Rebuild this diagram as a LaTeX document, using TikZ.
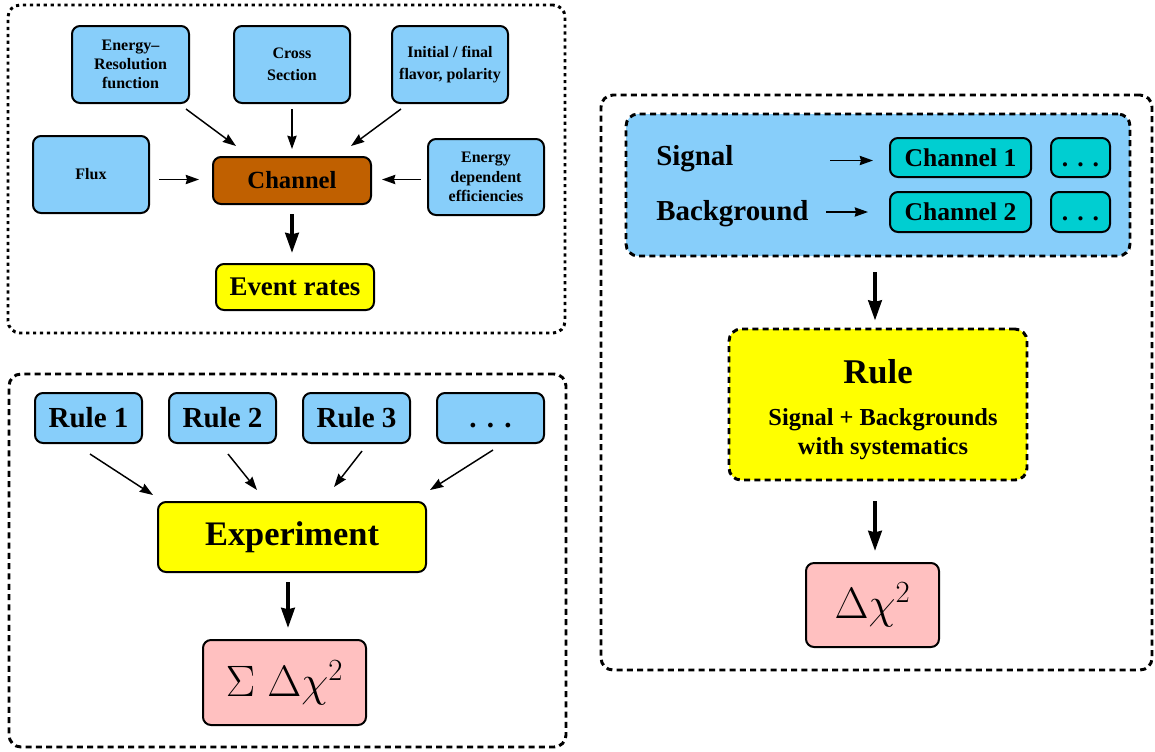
\RequirePackage{fix-cm}
\documentclass[tikz,border=0pt]{standalone}
\usepackage{fontspec}
\setmainfont{Liberation Serif}
\usetikzlibrary{arrows.meta,calc}
\definecolor{boxblue}{HTML}{87CEFA}
\definecolor{chanbrown}{HTML}{C06000}
\definecolor{chanteal}{HTML}{00CED1}
\definecolor{rateyellow}{HTML}{FFFF00}
\definecolor{chipink}{HTML}{FFC0C0}
\newcommand\spdots{.\hspace{.35em}.\hspace{.35em}.}
\newcommand\fs[2]{\fontsize{#1}{#2}\selectfont}
\begin{document}
\begin{tikzpicture}[x=0.75pt,y=-0.75pt,
  box/.style={draw=black,line width=1.5pt,rounded corners=6pt,inner sep=0pt,align=center},
  sz/.style 2 args={minimum width=#1*0.75pt,minimum height=#2*0.75pt},
  frame/.style={draw=black,line width=2.2pt,rounded corners=9pt,inner sep=0pt},
  dotframe/.style={frame,dash pattern=on 2.4pt off 2.8pt},
  dashframe/.style={frame,dash pattern=on 4.5pt off 3.2pt},
  smalltxt/.style={font=\bfseries\fs{12}{14.5}},
  twoline/.style={font=\bfseries\fs{12}{16.5}},
  arr/.style={-{Stealth[length=10pt,width=7pt,inset=1pt]},line width=1.1pt},
  bigarr/.style={-{Stealth[length=15pt,width=10pt,inset=1pt]},line width=3pt},
]
\useasboundingbox (0,0) rectangle (1155,751);

% ---------- channel definition ----------
\node[dotframe,sz={557}{328}] (topframe) at (286.5,169) {};
\node[box,fill=boxblue,sz={117}{77},smalltxt] (er) at (130.5,64.5) {Energy–\\Resolution\\function};
\node[box,fill=boxblue,sz={116}{77},twoline] (cs) at (292,64.5) {Cross\\Section};
\node[box,fill=boxblue,sz={116}{77},twoline] (ifp) at (450,64.5) {Initial / final\\flavor, polarity};
\node[box,fill=boxblue,sz={116}{77},smalltxt] (flux) at (91,174.5) {Flux};
\node[box,fill=boxblue,sz={116}{76},smalltxt] (eff) at (486,177) {Energy\\dependent\\efficiencies};
\node[box,fill=chanbrown,sz={158}{47},font=\bfseries\fs{18.5}{20}] (ch) at (292,180.5) {Channel};
\node[box,fill=rateyellow,sz={158}{46},font=\bfseries\fs{20.2}{22}] (ev) at (295,287) {Event rates};

\draw[arr] ($(er.south)+(55.5,5)$) -- ($(ch.north)+(-56,-10)$);
\draw[arr] ($(cs.south)+(0,5)$) -- ($(ch.north)+(0,-7)$);
\draw[arr] ($(ifp.south)+(-49,5)$) -- ($(ch.north)+(59,-10)$);
\draw[arr] ($(flux.east|-ch.west)+(9,-1)$) -- ($(ch.west)+(-13,-1)$);
\draw[arr] ($(eff.west|-ch.east)+(-6,-1)$) -- ($(ch.east)+(10,-1)$);
\draw[bigarr] ($(ch.south)+(0,9)$) -- ($(ch.south|-ev.north)+(0,-10)$);

% ---------- experiment ----------
\node[dashframe,sz={557}{373}] (expframe) at (287.5,560.5) {};
\node[box,fill=boxblue,sz={107}{50},font=\bfseries\fs{21.8}{24}] (r1) at (88.5,418) {Rule 1};
\node[box,fill=boxblue,sz={107}{50},font=\bfseries\fs{21.8}{24}] (r2) at (222.5,418) {Rule 2};
\node[box,fill=boxblue,sz={107}{50},font=\bfseries\fs{21.8}{24}] (r3) at (356.5,418) {Rule 3};
\node[box,fill=boxblue,sz={107}{50},font=\bfseries\fs{21.8}{24}] (r4) at (490.5,418) {\vphantom{Rule 1}\spdots};
\node[box,fill=rateyellow,sz={268}{70},font=\bfseries\fs{25.8}{28}] (exp) at (292,537) {Experiment};
\node[box,fill=chipink,sz={163}{85},font=\fs{33}{36}] (sum) at (284.5,682.5) {$\Sigma\;\Delta\chi^{2}$};

\draw[arr] ($(r1.south)+(1.5,10)$) -- ($(exp.north)+(-139,-6)$);
\draw[arr] ($(r2.south)+(5.5,10)$) -- ($(exp.north)+(-35,-11)$);
\draw[arr] ($(r3.south)+(5.5,7)$) -- ($(exp.north)+(42,-14)$);
\draw[arr] ($(r4.south)+(2.5,6)$) -- ($(exp.north)+(138,-11)$);
\draw[bigarr] ($(exp.south)+(-4,9)$) -- ($(sum.north)+(3.5,-11)$);

% ---------- rule ----------
\node[dashframe,sz={551}{575}] (ruleframe) at (876.5,382.5) {};
\node[dashframe,fill=boxblue,sz={504}{142}] (sb) at (878,185) {};
\node[anchor=west,inner sep=0pt,font=\bfseries\fs{21.7}{24}] (sig) at (656,159) {Signal};
\node[anchor=west,inner sep=0pt,font=\bfseries\fs{21.7}{24}] (bg) at (656,214) {Background};
\node[box,fill=chanteal,sz={141}{39},font=\bfseries\fs{19.2}{21}] (ch1) at (960.5,157.5) {Channel 1};
\node[box,fill=chanteal,sz={59}{39},font=\bfseries\fs{19.2}{21}] (d1) at (1080.5,157.5) {\vphantom{Channel}\spdots};
\node[box,fill=chanteal,sz={141}{40},font=\bfseries\fs{19.2}{21}] (ch2) at (960.5,212) {Channel 2};
\node[box,fill=chanteal,sz={59}{40},font=\bfseries\fs{19.2}{21}] (d2) at (1080.5,212) {\vphantom{Channel}\spdots};

\draw[arr] ($(ch1.west)+(-59,3)$) -- ($(ch1.west)+(-16,3)$);
\draw[arr] ($(ch2.west)+(-63,0)$) -- ($(ch2.west)+(-21,0)$);

\node[dashframe,fill=rateyellow,sz={298}{151}] (rule) at (878,404.5) {};
\node[inner sep=0pt,font=\bfseries\fs{26}{28}] (ruletitle) at (878,372) {Rule};
\node[inner sep=0pt,align=center,font=\bfseries\fs{18.3}{21.75}] (rulesub) at (883,434) {Signal + Backgrounds\\with systematics};
\node[box,fill=chipink,sz={133}{84},font=\fs{33}{36}] (dchi) at (872.5,605) {$\Delta\chi^{2}$};

\draw[bigarr] ($(sb.south)+(-3,15)$) -- ($(rule.north)+(-3,-7)$);
\draw[bigarr] ($(rule.south)+(-3,20)$) -- ($(dchi.north)+(2.5,-11)$);
\end{tikzpicture}
\end{document}
